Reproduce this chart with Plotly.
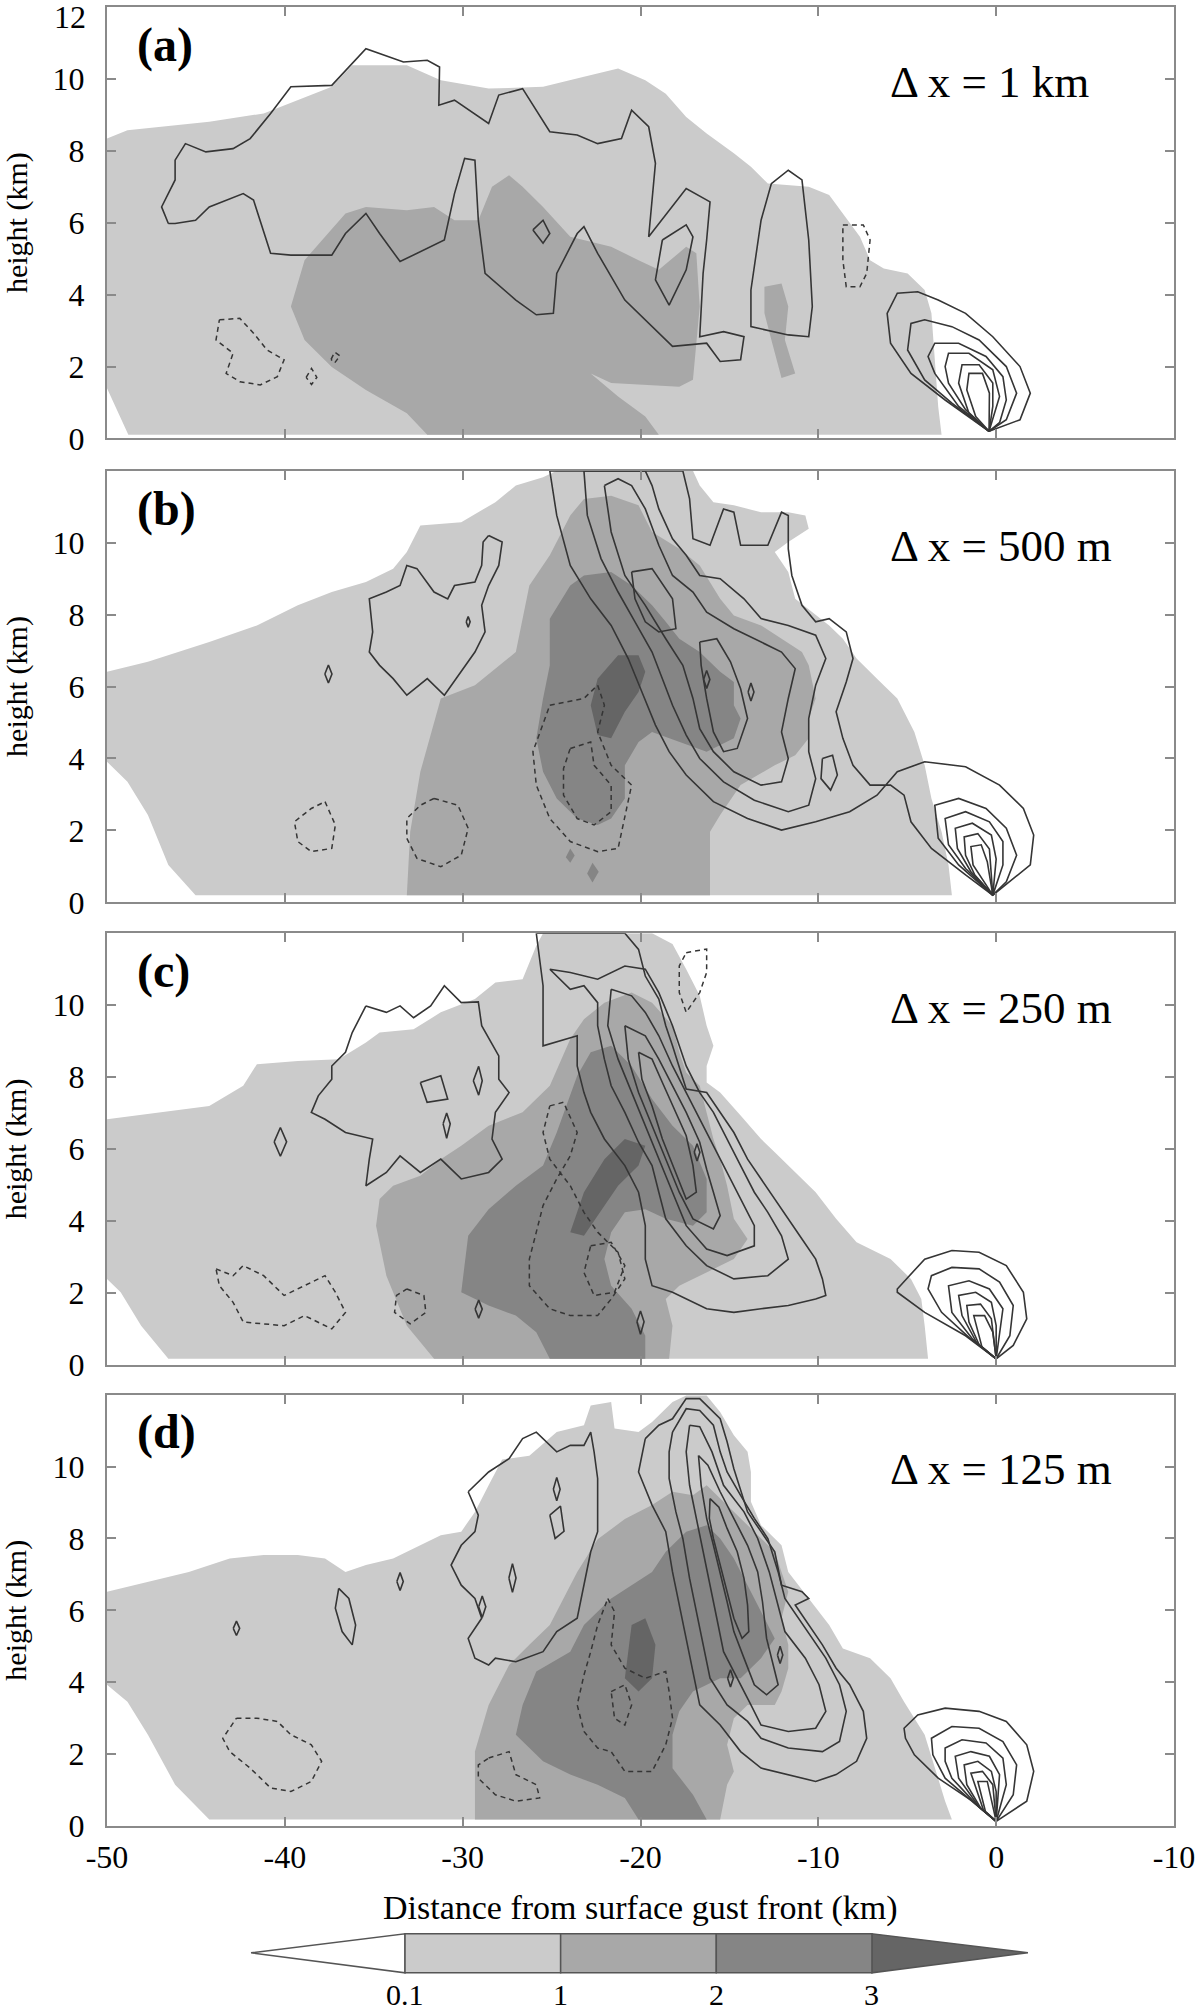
import plotly.graph_objects as go

# colour-bar levels and shades (white below 0.1, darkest above 3)
levels = [0.1, 1, 2, 3]
shade_colors = ["#ffffff", "#cbcbcb", "#a8a8a8", "#858585", "#656565"]

panel_tags = ["(a)", "(b)", "(c)", "(d)"]
grid_labels = ["\u0394 x = 1 km", "\u0394 x = 500 m", "\u0394 x = 250 m", "\u0394 x = 125 m"]
x_ticks = [-50, -40, -30, -20, -10, 0, 10]
x_tick_text = ["-50", "-40", "-30", "-20", "-10", "0", "-10"]

# ---------------- panel (a) ----------------
a_light = [(-50, 8.34), (-48.85, 8.57), (-44.25, 8.81), (-41.19, 9.04), (-37.36, 9.78), (-36.21, 10.38),
           (-33.14, 10.38), (-31.23, 9.96), (-28.54, 9.73), (-25.48, 9.78), (-23.18, 10.06), (-21.26, 10.29),
           (-19.73, 9.96), (-18.58, 9.59), (-17.43, 8.94), (-16.28, 8.48), (-14.75, 7.93), (-13.79, 7.56),
           (-12.84, 7.09), (-10.54, 7.0), (-9.39, 6.77), (-8.62, 6.26), (-7.66, 5.61), (-7.09, 4.96),
           (-6.32, 4.73), (-4.98, 4.59), (-4.02, 4.13), (-3.64, 3.48), (-3.45, 2.28), (-3.26, 0.89),
           (-3.07, 0.1), (-48.8, 0.1), (-50, 1.4)]
a_mid = [(-39.66, 3.67), (-38.89, 4.96), (-36.59, 6.26), (-35.44, 6.44), (-33.14, 6.35), (-31.61, 6.44),
         (-30.46, 6.07), (-29.12, 6.07), (-28.35, 7.0), (-27.39, 7.32), (-26.63, 7.0), (-25.48, 6.44),
         (-23.95, 5.61), (-21.65, 5.33), (-20.11, 4.96), (-18.97, 4.69), (-17.43, 5.33), (-16.86, 5.15),
         (-16.67, 3.67), (-16.86, 2.74), (-17.05, 1.63), (-17.82, 1.44), (-21.65, 1.54), (-22.8, 1.81),
         (-21.26, 1.17), (-19.73, 0.61), (-18.97, 0.1), (-31.99, 0.1), (-33.14, 0.7), (-35.44, 1.35),
         (-37.36, 1.99), (-38.89, 2.74)]
a_mid2 = [(-13.03, 4.22), (-12.07, 4.31), (-11.69, 3.67), (-11.88, 2.74), (-11.3, 1.81), (-12.07, 1.68),
          (-12.64, 2.74), (-13.03, 3.48)]
a_up1 = [(-46.55, 5.98), (-46.93, 6.44), (-46.17, 7.19), (-46.17, 7.74), (-45.59, 8.2), (-44.44, 7.97),
         (-42.91, 8.06), (-41.95, 8.34), (-40.8, 9.04), (-39.66, 9.78), (-37.36, 9.82), (-35.44, 10.84),
         (-33.33, 10.47), (-31.99, 10.52), (-31.3, 10.33), (-31.34, 9.27), (-30.46, 9.41), (-28.54, 8.76),
         (-27.97, 9.55), (-26.63, 9.73), (-25.1, 8.53), (-23.56, 8.44), (-22.41, 8.2), (-21.07, 8.34),
         (-20.5, 9.13), (-19.54, 8.67), (-19.16, 7.65), (-19.54, 5.61), (-17.43, 6.95), (-16.09, 6.58),
         (-16.28, 5.52), (-16.48, 4.59), (-16.67, 2.83), (-15.33, 2.97), (-14.18, 2.83), (-14.37, 2.19),
         (-15.52, 2.14), (-16.28, 2.65), (-18.2, 2.56), (-19.35, 3.11), (-20.88, 3.85), (-22.41, 5.15),
         (-23.18, 5.89), (-23.56, 5.7), (-24.71, 4.59), (-24.9, 3.48), (-25.86, 3.44), (-27.01, 3.85),
         (-28.74, 4.59), (-29.12, 6.07), (-29.31, 7.74), (-29.89, 7.79), (-30.46, 6.81), (-31.03, 5.52),
         (-33.52, 4.92), (-34.67, 5.7), (-35.44, 6.26), (-36.59, 5.7), (-37.36, 5.1), (-39.66, 5.1),
         (-40.8, 5.15), (-41.76, 6.63), (-42.34, 6.81), (-44.25, 6.44), (-45.02, 6.07), (-46.17, 5.98)]
a_up2 = [(-26.05, 5.8), (-25.48, 6.07), (-25.1, 5.7), (-25.48, 5.43)]
a_up3 = [(-18.77, 5.52), (-17.43, 5.94), (-17.05, 5.61), (-17.43, 4.69), (-18.39, 3.71), (-19.16, 4.41)]
a_up4 = [(-12.64, 7.09), (-11.69, 7.46), (-10.92, 7.19), (-10.54, 5.52), (-10.34, 3.67), (-10.54, 2.83),
         (-11.69, 2.88), (-13.79, 3.11), (-13.79, 4.13), (-13.22, 6.07)]
a_gf1 = [(-0.4, 0.2), (-2.87, 1.07), (-4.79, 1.81), (-5.94, 2.65), (-6.13, 3.48), (-5.56, 4.04), (-4.41, 4.08),
         (-3.26, 3.85), (-1.72, 3.48), (-0.19, 2.83), (1.34, 2.0), (1.92, 1.26), (1.34, 0.52), (-0.4, 0.2)]
a_gf2 = [(-0.4, 0.2), (-2.49, 0.98), (-4.02, 1.63), (-4.98, 2.46), (-4.79, 3.2), (-4.02, 3.3), (-2.49, 3.11),
         (-0.96, 2.74), (0.57, 2.0), (1.15, 1.26), (0.57, 0.52), (-0.4, 0.2)]
a_gf3 = [(-0.4, 0.2), (-2.11, 0.89), (-3.45, 1.81), (-3.83, 2.28), (-3.45, 2.65), (-2.11, 2.65), (-0.57, 2.28),
         (0.38, 1.72), (0.57, 1.07), (0.2, 0.45), (-0.4, 0.2)]
a_gf4 = [(-0.4, 0.2), (-1.72, 0.8), (-2.68, 1.54), (-2.87, 2.0), (-2.68, 2.37), (-1.53, 2.37), (-0.19, 1.91),
         (0.19, 1.17), (-0.4, 0.2)]
a_gf5 = [(-0.4, 0.2), (-1.53, 0.7), (-2.11, 1.54), (-1.92, 2.05), (-0.96, 2.05), (-0.19, 1.54), (-0.19, 0.89),
         (-0.4, 0.2)]
a_gf6 = [(-0.4, 0.2), (-1.15, 0.61), (-1.65, 1.35), (-1.53, 1.81), (-0.77, 1.81), (-0.38, 1.26), (-0.4, 0.2)]
a_down1 = [(-43.68, 3.3), (-42.53, 3.34), (-41.76, 2.93), (-41.0, 2.46), (-40.04, 2.19), (-40.42, 1.72),
           (-41.38, 1.49), (-42.53, 1.58), (-43.3, 1.81), (-42.91, 2.37), (-43.87, 2.74)]
a_down2 = [(-38.8, 1.7), (-38.5, 1.95), (-38.2, 1.7), (-38.5, 1.5)]
a_down3 = [(-37.4, 2.2), (-37.2, 2.4), (-36.9, 2.3), (-37.2, 2.1)]
a_down4 = [(-8.62, 5.94), (-7.47, 5.94), (-7.09, 5.52), (-7.28, 4.59), (-7.66, 4.22), (-8.43, 4.22), (-8.62, 4.96)]

# ---------------- panel (b) ----------------
b_light = [(-50, 6.41), (-47.7, 6.69), (-44.25, 7.24), (-41.57, 7.7), (-39.27, 8.26), (-37.36, 8.63),
           (-35.44, 8.91), (-33.91, 9.28), (-33.14, 9.74), (-32.38, 10.48), (-30.08, 10.57), (-28.16, 11.13),
           (-27.01, 11.59), (-25.48, 11.82), (-24.71, 12.0), (-17.05, 12.0), (-16.67, 11.59), (-15.9, 11.13),
           (-14.75, 11.04), (-13.22, 10.85), (-11.69, 10.85), (-10.73, 10.76), (-10.54, 10.39), (-11.69, 10.02),
           (-12.45, 9.74), (-11.69, 9.19), (-11.3, 8.44), (-10.15, 7.98), (-9.39, 7.7), (-8.62, 7.33),
           (-7.85, 6.78), (-6.7, 6.22), (-5.56, 5.67), (-4.6, 4.74), (-4.02, 3.81), (-3.64, 2.89), (-3.07, 1.96),
           (-2.68, 1.04), (-2.49, 0.2), (-45.02, 0.2), (-46.55, 1.04), (-47.7, 2.43), (-48.85, 3.35), (-50, 3.91)]
b_mid = [(-33.14, 0.2), (-32.95, 1.96), (-32.38, 3.63), (-31.23, 5.67), (-29.31, 6.04), (-27.01, 6.96),
         (-26.25, 8.81), (-25.1, 9.65), (-23.95, 10.76), (-23.18, 11.22), (-21.65, 11.31), (-20.11, 11.04),
         (-19.35, 10.3), (-17.82, 9.83), (-16.67, 9.37), (-15.52, 8.44), (-14.75, 7.98), (-13.22, 7.7),
         (-10.92, 6.96), (-10.54, 6.59), (-10.15, 5.67), (-10.54, 5.11), (-10.54, 4.56), (-11.3, 4.09),
         (-12.45, 3.81), (-14.37, 3.26), (-15.52, 2.43), (-16.09, 1.96), (-16.09, 0.2)]
b_dark = [(-25.1, 7.89), (-23.95, 8.81), (-23.18, 9.09), (-21.65, 9.19), (-20.5, 8.81), (-19.35, 8.26),
          (-18.58, 7.8), (-17.82, 7.33), (-16.67, 6.96), (-15.52, 6.41), (-14.75, 6.13), (-14.75, 5.48),
          (-14.37, 5.11), (-14.75, 4.56), (-16.28, 4.19), (-17.82, 4.46), (-19.35, 4.74), (-20.11, 4.46),
          (-20.88, 3.81), (-20.88, 2.89), (-21.65, 2.33), (-22.41, 2.15), (-23.56, 2.33), (-24.71, 2.89),
          (-25.48, 3.63), (-25.86, 4.56), (-25.48, 5.67), (-25.1, 6.59)]
b_dark2 = [(-24.2, 1.25), (-23.95, 1.5), (-23.7, 1.3), (-23.95, 1.1)]
b_dark3 = [(-23.0, 0.8), (-22.7, 1.1), (-22.35, 0.85), (-22.7, 0.55)]
b_darkest = [(-22.41, 6.22), (-21.26, 6.87), (-20.11, 6.87), (-19.73, 6.41), (-20.11, 5.85), (-20.88, 5.3),
             (-21.65, 4.56), (-22.41, 4.65), (-22.8, 5.48)]
b_cloud = [(-28.54, 10.2), (-27.78, 10.02), (-27.97, 9.37), (-28.54, 8.81), (-28.93, 8.26), (-28.74, 7.52),
           (-29.31, 6.96), (-30.08, 6.41), (-31.03, 5.76), (-31.99, 6.22), (-33.14, 5.76), (-33.91, 6.22),
           (-34.67, 6.59), (-35.25, 6.96), (-35.06, 7.52), (-35.25, 8.44), (-34.29, 8.63), (-33.52, 8.81),
           (-33.14, 9.37), (-32.57, 9.28), (-31.61, 8.63), (-30.84, 8.44), (-30.46, 8.81), (-29.31, 8.91),
           (-28.93, 9.37), (-28.85, 10.02)]
b_dot1 = [(-37.75, 6.35), (-37.55, 6.6), (-37.35, 6.35), (-37.55, 6.1)]
b_dot2 = [(-29.8, 7.8), (-29.69, 7.95), (-29.58, 7.8), (-29.69, 7.65)]
b_up1 = [(-25.1, 12.0), (-24.71, 10.76), (-23.95, 9.37), (-22.8, 8.44), (-21.65, 7.7), (-20.69, 6.78),
         (-19.92, 5.85), (-19.16, 4.93), (-18.39, 4.19), (-17.43, 3.54), (-15.9, 2.8), (-13.98, 2.33),
         (-12.07, 2.01), (-10.15, 2.24), (-8.24, 2.52), (-6.7, 2.98), (-5.56, 3.63), (-4.02, 3.91),
         (-1.72, 3.77), (0.19, 3.26), (1.53, 2.61), (2.11, 1.87), (1.92, 1.04), (-0.19, 0.2), (-1.72, 0.76),
         (-3.64, 1.5), (-4.79, 2.24), (-5.18, 2.98), (-5.94, 3.26), (-7.09, 3.26), (-8.05, 3.81), (-8.62, 4.56),
         (-9.0, 5.3), (-8.43, 6.13), (-8.05, 6.78), (-8.43, 7.52), (-9.39, 7.89), (-10.15, 7.8), (-10.92, 8.26),
         (-11.49, 9.09), (-11.69, 9.83), (-11.69, 10.76), (-12.07, 10.85), (-12.84, 9.93), (-14.37, 9.93),
         (-14.75, 10.85), (-15.33, 10.94), (-16.09, 9.93), (-17.05, 10.11), (-17.24, 11.22), (-17.62, 12.0)]
b_up2 = [(-23.18, 12.0), (-22.99, 10.76), (-22.22, 9.56), (-21.26, 8.63), (-20.31, 7.8), (-19.35, 6.96),
         (-18.77, 6.22), (-18.2, 5.48), (-17.43, 4.65), (-16.67, 4.0), (-15.33, 3.35), (-13.6, 2.84),
         (-11.69, 2.52), (-10.54, 2.7), (-10.15, 3.44), (-10.54, 4.19), (-10.54, 5.11), (-10.15, 6.04),
         (-9.58, 6.78), (-10.15, 7.43), (-11.69, 7.7), (-13.22, 7.89), (-14.18, 8.44), (-15.52, 9.0),
         (-16.67, 9.09), (-17.43, 9.65), (-18.2, 10.11), (-18.97, 10.94), (-19.35, 11.59), (-19.73, 12.0)]
b_up3 = [(-22.03, 11.59), (-21.65, 10.3), (-20.88, 9.09), (-19.73, 8.26), (-18.58, 7.33), (-17.62, 6.59),
         (-17.05, 5.67), (-16.67, 4.83), (-15.9, 4.19), (-14.75, 3.63), (-13.22, 3.26), (-12.07, 3.35),
         (-11.69, 4.0), (-12.07, 4.74), (-11.69, 5.67), (-11.3, 6.5), (-12.07, 6.96), (-13.6, 7.33),
         (-14.75, 7.61), (-16.28, 8.07), (-17.05, 8.63), (-18.2, 9.09), (-18.97, 9.93), (-19.73, 10.94),
         (-20.5, 11.59), (-21.26, 11.78)]
b_up4 = [(-20.5, 9.19), (-19.35, 9.28), (-18.2, 8.44), (-18.01, 7.61), (-18.97, 7.52), (-19.73, 7.8), (-20.31, 8.44)]
b_up5 = [(-16.67, 7.24), (-15.71, 7.33), (-14.94, 6.69), (-14.37, 5.94), (-13.98, 5.11), (-14.56, 4.28),
         (-15.33, 4.19), (-15.9, 4.74), (-16.28, 5.67), (-16.59, 6.59)]
b_up6 = [(-16.45, 6.2), (-16.28, 6.45), (-16.1, 6.2), (-16.28, 5.95)]
b_up7 = [(-13.95, 5.85), (-13.79, 6.1), (-13.62, 5.85), (-13.79, 5.6)]
b_up8 = [(-9.77, 4.0), (-9.2, 4.09), (-8.93, 3.54), (-9.31, 3.12), (-9.85, 3.44)]
b_gf1 = [(-0.19, 0.2), (-2.11, 1.04), (-3.26, 1.78), (-3.45, 2.7), (-2.11, 2.89), (-0.57, 2.61), (0.57, 2.06),
         (1.15, 1.31), (0.57, 0.57), (-0.19, 0.2)]
b_gf2 = [(-0.19, 0.2), (-1.72, 0.94), (-2.68, 1.6), (-2.87, 2.33), (-1.72, 2.52), (-0.38, 2.24), (0.38, 1.69),
         (0.38, 1.04), (-0.19, 0.2)]
b_gf3 = [(-0.19, 0.2), (-1.42, 0.85), (-2.18, 1.5), (-2.3, 2.06), (-1.34, 2.2), (-0.27, 1.87), (0.0, 1.2), (-0.19, 0.2)]
b_gf4 = [(-0.19, 0.2), (-1.2, 0.76), (-1.72, 1.31), (-1.8, 1.82), (-1.03, 1.91), (-0.38, 1.48), (-0.19, 0.2)]
b_gf5 = [(-0.19, 0.2), (-1.3, 1.04), (-1.42, 1.55), (-0.84, 1.6), (-0.5, 1.13), (-0.19, 0.2)]
b_down1 = [(-37.74, 2.8), (-37.16, 2.15), (-37.36, 1.5), (-38.51, 1.41), (-39.27, 1.69), (-39.46, 2.24), (-38.51, 2.61)]
b_down2 = [(-31.61, 2.89), (-30.27, 2.7), (-29.69, 2.06), (-30.08, 1.31), (-31.23, 0.99), (-32.57, 1.22),
           (-33.14, 1.78), (-33.14, 2.33), (-32.38, 2.7)]
b_down3 = [(-25.1, 5.48), (-23.18, 5.67), (-22.41, 6.04), (-22.03, 5.48), (-22.41, 4.74), (-21.65, 3.81),
           (-20.5, 3.26), (-20.88, 2.33), (-21.26, 1.5), (-22.41, 1.41), (-23.95, 1.69), (-25.1, 2.33),
           (-25.86, 3.26), (-26.05, 4.19), (-25.48, 4.93)]
b_down4 = [(-23.95, 4.28), (-22.8, 4.46), (-22.61, 3.81), (-21.65, 3.26), (-21.65, 2.52), (-22.61, 2.15),
           (-23.56, 2.33), (-24.33, 2.98), (-24.33, 3.72)]

# ---------------- panel (c) ----------------
c_light = [(-50, 6.83), (-46.93, 7.02), (-44.25, 7.2), (-42.34, 7.76), (-41.57, 8.36), (-39.27, 8.45),
           (-36.97, 8.5), (-35.44, 8.96), (-34.67, 9.24), (-32.76, 9.33), (-31.23, 9.8), (-29.31, 10.17),
           (-28.16, 10.63), (-26.63, 10.72), (-25.86, 11.65), (-25.48, 12.0), (-19.35, 12.0), (-18.2, 11.7),
           (-17.43, 11.0), (-16.67, 10.26), (-16.28, 9.43), (-15.9, 8.87), (-16.28, 8.31), (-16.28, 7.85),
           (-15.52, 7.57), (-14.37, 6.93), (-13.22, 6.28), (-12.45, 5.91), (-11.69, 5.54), (-10.15, 4.8),
           (-9.0, 4.06), (-7.85, 3.41), (-5.94, 2.94), (-4.79, 2.39), (-4.21, 1.83), (-4.02, 1.09),
           (-3.83, 0.17), (-46.55, 0.17), (-48.08, 1.09), (-49.23, 2.02), (-50, 2.39)]
c_mid = [(-31.61, 0.17), (-33.14, 1.09), (-34.29, 2.48), (-34.87, 3.87), (-34.67, 4.61), (-33.91, 4.98),
         (-32.38, 5.26), (-31.23, 5.72), (-30.08, 6.09), (-28.54, 6.65), (-26.63, 7.02), (-25.1, 7.76),
         (-23.95, 9.06), (-23.18, 9.61), (-22.03, 10.07), (-20.5, 10.35), (-19.35, 10.07), (-18.2, 9.43),
         (-17.82, 8.69), (-17.43, 8.13), (-16.67, 7.76), (-16.28, 7.02), (-15.9, 6.28), (-15.52, 5.72),
         (-15.13, 4.98), (-14.75, 4.06), (-13.98, 3.5), (-14.75, 2.94), (-16.28, 2.57), (-17.82, 2.2),
         (-18.58, 1.83), (-18.2, 1.09), (-18.39, 0.17)]
c_dark = [(-30.08, 2.02), (-29.69, 3.59), (-28.54, 4.33), (-27.01, 4.98), (-25.48, 5.54), (-24.71, 6.46),
          (-23.56, 8.04), (-22.8, 8.69), (-21.65, 8.87), (-20.5, 8.31), (-19.35, 7.39), (-18.2, 6.65),
          (-17.05, 6.09), (-16.28, 5.17), (-16.28, 4.24), (-17.05, 3.87), (-18.58, 4.06), (-19.73, 4.33),
          (-20.88, 4.24), (-21.65, 3.69), (-22.03, 2.94), (-21.65, 2.2), (-20.5, 1.56), (-19.73, 0.81),
          (-19.73, 0.17), (-25.1, 0.17), (-25.86, 0.91), (-27.01, 1.37), (-28.54, 1.65)]
c_darkest = [(-23.95, 3.69), (-23.18, 4.8), (-22.03, 5.72), (-20.88, 6.28), (-19.73, 6.09), (-20.11, 5.54),
             (-21.26, 4.98), (-22.41, 4.15), (-23.18, 3.59)]
c_cloud = [(-35.44, 9.98), (-34.29, 9.8), (-33.52, 9.98), (-32.76, 9.65), (-31.8, 9.98), (-31.03, 10.54),
           (-30.08, 10.07), (-29.12, 10.09), (-28.93, 9.43), (-27.97, 8.59), (-27.97, 7.94), (-27.39, 7.57),
           (-28.16, 7.02), (-28.35, 6.28), (-27.78, 5.72), (-28.54, 5.35), (-30.08, 5.17), (-31.23, 5.72),
           (-32.38, 5.35), (-33.52, 5.81), (-34.29, 5.35), (-35.44, 4.98), (-35.25, 5.72), (-35.06, 6.28),
           (-36.59, 6.46), (-37.74, 6.83), (-38.51, 7.02), (-38.12, 7.48), (-37.36, 7.94), (-37.36, 8.31),
           (-36.59, 8.69), (-36.21, 9.24)]
c_hole1 = [(-32.38, 7.85), (-31.23, 8.04), (-30.84, 7.39), (-32.0, 7.3)]
c_hole2 = [(-29.4, 7.9), (-29.1, 8.3), (-28.9, 7.9), (-29.1, 7.5)]
c_hole3 = [(-31.1, 6.7), (-30.9, 7.0), (-30.7, 6.7), (-30.9, 6.3)]
c_dot1 = [(-40.6, 6.2), (-40.25, 6.6), (-39.9, 6.2), (-40.25, 5.8)]
c_dot2 = [(-16.98, 5.91), (-16.82, 6.15), (-16.66, 5.91), (-16.82, 5.67)]
c_dot3 = [(-20.2, 1.2), (-20.0, 1.5), (-19.8, 1.2), (-20.0, 0.85)]
c_dot4 = [(-29.3, 1.55), (-29.1, 1.8), (-28.9, 1.55), (-29.1, 1.3)]
c_up1 = [(-25.86, 12.0), (-25.48, 10.54), (-25.48, 8.87), (-23.56, 9.15), (-23.56, 8.31), (-23.18, 7.57),
         (-22.8, 7.02), (-22.03, 6.28), (-20.88, 5.54), (-20.11, 4.8), (-19.73, 3.87), (-19.73, 2.94),
         (-19.35, 2.2), (-18.2, 2.02), (-16.28, 1.56), (-14.75, 1.46), (-13.22, 1.56), (-11.69, 1.65),
         (-10.15, 1.83), (-9.58, 1.93), (-9.77, 2.39), (-10.15, 2.94), (-10.92, 3.5), (-11.69, 4.06),
         (-12.45, 4.61), (-13.22, 5.17), (-13.98, 5.72), (-14.75, 6.46), (-15.52, 7.02), (-16.28, 7.57),
         (-17.43, 7.67), (-17.82, 8.31), (-18.2, 8.87), (-18.58, 9.43), (-18.97, 10.17), (-19.73, 10.81),
         (-20.11, 11.55), (-20.88, 12.0)]
c_up2 = [(-25.1, 11.0), (-23.95, 10.44), (-23.18, 10.54), (-22.41, 10.07), (-22.41, 9.43), (-22.03, 8.5),
         (-21.65, 7.76), (-20.88, 7.02), (-20.11, 6.19), (-19.35, 5.54), (-18.97, 4.8), (-18.58, 4.06),
         (-17.43, 3.31), (-16.28, 2.76), (-14.75, 2.39), (-12.84, 2.48), (-11.69, 2.94), (-12.07, 3.59),
         (-12.84, 4.24), (-13.6, 4.8), (-14.37, 5.54), (-15.13, 6.28), (-15.9, 7.02), (-16.67, 7.57),
         (-17.43, 8.31), (-18.2, 9.43), (-18.97, 10.35), (-19.73, 11.0), (-20.88, 11.09), (-22.41, 10.72),
         (-23.95, 10.91)]
c_up3 = [(-21.65, 10.44), (-20.5, 10.26), (-19.73, 9.8), (-18.97, 9.15), (-18.2, 8.31), (-17.43, 7.57),
         (-16.67, 6.83), (-15.9, 6.09), (-15.13, 5.35), (-14.37, 4.61), (-13.6, 3.87), (-13.6, 3.31),
         (-15.13, 3.04), (-16.28, 3.22), (-17.43, 3.87), (-18.2, 4.8), (-18.97, 5.72), (-19.73, 6.65),
         (-20.5, 7.57), (-21.26, 8.5), (-21.84, 9.43)]
c_up4 = [(-20.88, 9.43), (-19.73, 9.15), (-18.97, 8.5), (-18.2, 7.76), (-17.43, 7.02), (-16.67, 6.19),
         (-16.28, 5.44), (-15.9, 4.8), (-15.52, 4.15), (-15.9, 3.78), (-17.05, 4.06), (-17.82, 4.8),
         (-18.58, 5.72), (-19.35, 6.65), (-20.11, 7.57), (-20.69, 8.5)]
c_up5 = [(-20.11, 8.69), (-19.35, 8.5), (-18.77, 7.85), (-18.2, 7.2), (-17.43, 6.37), (-17.05, 5.54),
         (-16.86, 4.8), (-17.43, 4.61), (-18.01, 5.35), (-18.77, 6.28), (-19.35, 7.2), (-19.92, 7.94)]
c_gf1 = [(0.0, 0.17), (-1.72, 0.81), (-4.02, 1.46), (-5.56, 2.02), (-5.56, 2.11), (-4.02, 2.94), (-2.49, 3.18),
         (-0.96, 3.13), (0.57, 2.76), (1.53, 2.02), (1.72, 1.28), (0.96, 0.54), (0.0, 0.17)]
c_gf2 = [(0.0, 0.17), (-1.5, 0.75), (-3.07, 1.46), (-3.83, 2.11), (-3.64, 2.48), (-2.49, 2.71), (-0.96, 2.67),
         (0.19, 2.3), (0.96, 1.65), (0.77, 0.81), (0.0, 0.17)]
c_gf3 = [(0.0, 0.17), (-1.3, 0.7), (-2.49, 1.46), (-2.68, 2.2), (-1.53, 2.34), (-0.38, 2.11), (0.38, 1.56),
         (0.19, 0.81), (0.0, 0.17)]
c_gf4 = [(0.0, 0.17), (-1.1, 0.62), (-1.92, 1.37), (-2.11, 1.93), (-1.15, 2.02), (-0.27, 1.74), (0.0, 1.09), (0.0, 0.17)]
c_gf5 = [(0.0, 0.17), (-0.95, 0.55), (-1.53, 1.19), (-1.65, 1.65), (-0.88, 1.69), (-0.27, 1.28), (0.0, 0.17)]
c_gf6 = [(0.0, 0.17), (-0.8, 0.5), (-1.26, 1.37), (-0.65, 1.37), (-0.19, 0.91), (0.0, 0.17)]
c_down1 = [(-17.43, 11.46), (-16.28, 11.56), (-16.28, 10.91), (-16.67, 10.35), (-17.43, 9.8), (-17.82, 10.35),
           (-17.82, 11.09)]
c_down2 = [(-25.1, 7.2), (-24.33, 7.3), (-23.56, 6.46), (-23.95, 5.81), (-24.71, 5.17), (-25.48, 4.43),
           (-25.86, 3.69), (-26.25, 2.94), (-26.25, 2.2), (-25.1, 1.56), (-23.95, 1.37), (-22.41, 1.37),
           (-21.65, 1.83), (-20.88, 2.39), (-21.26, 3.13), (-22.41, 3.69), (-23.18, 4.24), (-23.95, 4.98),
           (-25.1, 5.72), (-25.48, 6.46)]
c_down3 = [(-22.8, 3.31), (-21.65, 3.41), (-20.88, 2.76), (-21.46, 2.02), (-22.61, 1.93), (-23.18, 2.57)]
c_down4 = [(-43.87, 2.67), (-42.91, 2.48), (-42.34, 2.76), (-41.19, 2.48), (-40.04, 1.93), (-38.89, 2.2),
           (-37.74, 2.48), (-37.16, 2.02), (-36.59, 1.46), (-37.36, 1.0), (-38.89, 1.37), (-40.04, 1.09),
           (-42.34, 1.19), (-42.91, 1.74), (-43.68, 2.2)]
c_down5 = [(-33.14, 2.11), (-32.18, 1.93), (-32.07, 1.46), (-32.95, 1.14), (-33.83, 1.46), (-33.72, 1.93)]

# ---------------- panel (d) ----------------
d_light = [(-50, 6.52), (-47.7, 6.8), (-45.4, 7.07), (-43.1, 7.44), (-41.19, 7.54), (-39.27, 7.54),
           (-37.74, 7.44), (-36.59, 7.07), (-35.44, 7.26), (-33.91, 7.44), (-32.38, 7.81), (-31.23, 8.09),
           (-30.08, 8.19), (-29.31, 8.74), (-28.54, 9.48), (-27.78, 10.2), (-26.25, 10.3), (-24.71, 10.96),
           (-23.18, 11.15), (-22.8, 11.7), (-21.65, 11.8), (-21.46, 11.06), (-20.11, 10.96), (-19.35, 11.24),
           (-18.2, 11.8), (-17.43, 11.98), (-16.28, 11.98), (-15.52, 11.52), (-14.75, 10.87), (-13.98, 10.41),
           (-13.79, 9.85), (-13.79, 9.02), (-13.22, 8.37), (-12.07, 7.81), (-11.69, 7.07), (-10.54, 6.33),
           (-9.39, 5.59), (-8.62, 4.94), (-7.09, 4.67), (-5.94, 4.11), (-5.18, 3.46), (-4.02, 2.54),
           (-3.45, 1.61), (-2.87, 0.69), (-2.49, 0.18), (-44.25, 0.18), (-46.17, 1.15), (-47.7, 2.54),
           (-48.85, 3.46), (-50, 3.93)]
d_mid = [(-29.31, 0.18), (-29.31, 2.07), (-28.54, 3.37), (-27.39, 4.48), (-26.25, 5.04), (-25.1, 5.59),
         (-23.56, 7.07), (-22.41, 7.98), (-20.88, 8.54), (-19.35, 8.93), (-18.2, 9.3), (-17.05, 9.2),
         (-16.28, 9.48), (-14.75, 8.74), (-13.6, 8.19), (-12.45, 7.63), (-12.07, 7.07), (-11.69, 6.52),
         (-12.07, 5.78), (-11.69, 5.04), (-11.69, 4.39), (-12.07, 3.74), (-12.45, 3.37), (-13.98, 3.37),
         (-14.75, 3.0), (-15.13, 2.26), (-14.75, 1.52), (-15.13, 1.15), (-15.52, 0.18)]
d_dark = [(-27.01, 2.54), (-26.63, 3.37), (-25.86, 4.3), (-23.95, 4.85), (-23.18, 5.59), (-21.65, 6.33),
          (-20.5, 6.7), (-19.35, 7.07), (-18.58, 7.63), (-17.43, 8.19), (-16.28, 8.37), (-15.52, 8.0),
          (-14.75, 7.44), (-13.98, 6.7), (-13.22, 5.96), (-12.45, 5.22), (-13.22, 4.67), (-14.37, 4.11),
          (-15.52, 4.11), (-17.05, 3.74), (-17.82, 3.19), (-18.2, 2.54), (-18.2, 1.61), (-17.05, 0.87),
          (-16.28, 0.18), (-20.11, 0.18), (-20.88, 0.78), (-22.41, 1.15), (-23.95, 1.43), (-25.48, 1.8)]
d_darkest = [(-20.5, 5.59), (-19.73, 5.78), (-19.16, 5.04), (-19.35, 4.11), (-20.11, 3.74), (-20.88, 4.11),
             (-20.69, 4.85)]
d_cloud = [(-29.69, 9.3), (-28.54, 9.85), (-27.39, 10.22), (-26.63, 10.78), (-25.86, 10.96), (-24.71, 10.41),
           (-23.95, 10.59), (-23.18, 10.59), (-22.8, 10.96), (-22.61, 10.41), (-22.41, 9.67), (-22.41, 8.19),
           (-22.8, 7.63), (-23.18, 6.7), (-23.56, 5.78), (-24.71, 5.41), (-25.48, 4.85), (-27.01, 4.57),
           (-28.16, 4.67), (-28.54, 4.48), (-29.31, 4.67), (-29.69, 5.22), (-28.93, 5.78), (-29.31, 6.33),
           (-30.08, 6.7), (-30.65, 7.26), (-30.08, 7.81), (-29.31, 8.19), (-29.12, 8.65)]
d_hole1 = [(-25.1, 8.65), (-24.5, 8.9), (-24.3, 8.2), (-24.8, 8.0)]
d_hole2 = [(-24.9, 9.37), (-24.71, 9.7), (-24.52, 9.37), (-24.71, 9.05)]
d_hole3 = [(-27.4, 6.9), (-27.2, 7.3), (-27.0, 6.9), (-27.2, 6.5)]
d_hole4 = [(-29.1, 6.1), (-28.9, 6.4), (-28.7, 6.1), (-28.9, 5.8)]
d_dot1 = [(-36.97, 6.61), (-36.4, 6.33), (-36.02, 5.59), (-36.21, 5.04), (-36.78, 5.41), (-37.16, 6.06)]
d_dot2 = [(-33.7, 6.8), (-33.52, 7.05), (-33.34, 6.8), (-33.52, 6.55)]
d_dot3 = [(-42.9, 5.5), (-42.72, 5.7), (-42.54, 5.5), (-42.72, 5.3)]
d_up1 = [(-19.73, 10.78), (-20.11, 9.85), (-19.35, 8.93), (-18.58, 8.19), (-18.2, 7.07), (-17.82, 6.15),
         (-17.43, 5.22), (-17.05, 4.3), (-16.67, 3.37), (-15.52, 2.81), (-14.37, 2.07), (-13.22, 1.61),
         (-11.69, 1.43), (-10.15, 1.24), (-9.0, 1.43), (-7.85, 1.8), (-7.28, 2.44), (-7.47, 3.19),
         (-8.24, 3.93), (-9.0, 4.39), (-9.77, 5.04), (-10.54, 5.59), (-11.3, 6.15), (-10.54, 6.33),
         (-10.92, 6.52), (-12.07, 6.7), (-12.45, 7.63), (-13.22, 8.19), (-13.98, 8.74), (-14.75, 9.94),
         (-15.13, 10.69), (-15.52, 11.33), (-16.67, 11.89), (-17.43, 11.89), (-18.2, 11.33), (-18.97, 11.15)]
d_up2 = [(-18.2, 10.96), (-17.43, 11.61), (-16.67, 11.56), (-15.9, 11.15), (-15.52, 10.41), (-15.13, 9.85),
         (-14.37, 9.2), (-13.6, 8.56), (-12.84, 8.0), (-12.26, 7.07), (-11.88, 6.33), (-11.11, 5.78),
         (-10.34, 5.22), (-9.58, 4.67), (-8.81, 3.93), (-8.43, 3.19), (-8.81, 2.35), (-9.77, 2.07),
         (-11.69, 2.17), (-13.22, 2.44), (-13.98, 2.91), (-15.13, 3.37), (-16.09, 4.11), (-16.48, 5.04),
         (-16.86, 5.96), (-17.24, 6.89), (-17.62, 8.0), (-18.01, 8.74), (-18.39, 9.67), (-18.39, 10.41)]
d_up3 = [(-17.24, 11.15), (-16.67, 11.11), (-15.98, 10.41), (-15.33, 9.48), (-14.18, 8.74), (-13.41, 8.0),
         (-12.76, 7.07), (-12.38, 6.33), (-11.88, 5.41), (-10.73, 4.67), (-9.96, 3.93), (-9.58, 3.19),
         (-10.15, 2.72), (-11.69, 2.63), (-13.22, 2.81), (-13.79, 3.37), (-14.56, 4.11), (-15.33, 4.85),
         (-15.71, 5.78), (-16.09, 6.7), (-16.48, 7.63), (-16.86, 8.56), (-17.24, 9.48), (-17.43, 10.41)]
d_up4 = [(-16.74, 10.31), (-16.21, 10.04), (-15.52, 9.3), (-14.75, 8.56), (-13.98, 7.81), (-13.41, 7.07),
         (-13.14, 6.24), (-12.91, 5.22), (-12.53, 4.48), (-12.26, 3.93), (-12.91, 3.65), (-13.6, 3.93),
         (-14.18, 4.67), (-14.75, 5.41), (-15.13, 6.24), (-15.52, 7.07), (-15.9, 7.81), (-16.28, 8.56),
         (-16.59, 9.48)]
d_up5 = [(-16.09, 9.11), (-15.59, 8.87), (-15.13, 8.28), (-14.56, 7.63), (-14.18, 6.89), (-13.98, 6.15),
         (-13.91, 5.41), (-14.29, 5.22), (-14.75, 5.78), (-15.13, 6.52), (-15.52, 7.26), (-15.9, 8.0),
         (-16.13, 8.56)]
d_up6 = [(-12.3, 4.76), (-12.15, 5.0), (-12.0, 4.76), (-12.15, 4.52)]
d_up7 = [(-15.1, 4.11), (-14.94, 4.35), (-14.78, 4.11), (-14.94, 3.87)]
d_gf1 = [(0.0, 0.13), (-1.34, 0.69), (-3.26, 1.33), (-4.6, 1.98), (-5.1, 2.44), (-5.18, 2.72), (-4.41, 3.09),
         (-2.87, 3.28), (-0.96, 3.19), (0.57, 2.91), (1.72, 2.26), (2.11, 1.52), (1.72, 0.69), (0.0, 0.13)]
d_gf2 = [(0.0, 0.13), (-1.2, 0.62), (-2.87, 1.33), (-3.56, 1.98), (-3.64, 2.44), (-2.49, 2.77), (-0.96, 2.72),
         (0.38, 2.35), (1.15, 1.7), (0.96, 0.87), (0.0, 0.13)]
d_gf3 = [(0.0, 0.13), (-1.05, 0.57), (-2.49, 1.33), (-2.87, 1.8), (-2.87, 2.17), (-1.92, 2.4), (-0.57, 2.31),
         (0.38, 1.89), (0.57, 1.15), (0.0, 0.13)]
d_gf4 = [(0.0, 0.13), (-0.95, 0.52), (-2.11, 1.33), (-2.3, 1.94), (-1.42, 2.07), (-0.38, 1.94), (0.19, 1.43), (0.0, 0.13)]
d_gf5 = [(0.0, 0.13), (-0.85, 0.48), (-1.65, 1.15), (-1.8, 1.7), (-1.03, 1.8), (-0.27, 1.52), (0.0, 0.96), (0.0, 0.13)]
d_gf6 = [(0.0, 0.13), (-0.72, 0.45), (-1.42, 1.47), (-0.77, 1.52), (-0.19, 1.15), (0.0, 0.13)]
d_gf7 = [(0.0, 0.13), (-0.6, 0.4), (-1.03, 1.24), (-0.5, 1.24), (0.0, 0.13)]
d_down1 = [(-42.72, 3.0), (-41.57, 3.0), (-40.42, 2.91), (-39.66, 2.54), (-38.51, 2.26), (-37.93, 1.8),
           (-38.51, 1.24), (-39.66, 0.96), (-40.8, 1.06), (-41.95, 1.61), (-43.1, 2.07), (-43.49, 2.44)]
d_down2 = [(-28.54, 1.89), (-27.39, 2.07), (-27.01, 1.43), (-25.86, 1.15), (-25.67, 0.78), (-27.01, 0.69),
           (-28.16, 0.87), (-29.12, 1.33), (-29.12, 1.7)]
d_down3 = [(-21.84, 6.33), (-21.46, 5.96), (-21.65, 5.04), (-20.88, 4.39), (-19.73, 4.11), (-18.58, 4.3),
           (-18.39, 3.74), (-18.2, 3.0), (-18.58, 2.26), (-19.35, 1.52), (-20.88, 1.52), (-21.65, 2.07),
           (-22.41, 2.17), (-23.18, 2.63), (-23.56, 3.37), (-23.18, 4.2), (-22.8, 4.85), (-22.41, 5.59)]
d_down4 = [(-21.65, 3.74), (-20.88, 3.93), (-20.5, 3.37), (-20.88, 2.81), (-21.46, 3.0)]

panels = [
    dict(shades=[(a_light, 1), (a_mid, 2), (a_mid2, 2)],
         solid=[a_up1, a_up2, a_up3, a_up4, a_gf1, a_gf2, a_gf3, a_gf4, a_gf5, a_gf6],
         dashed=[a_down1, a_down2, a_down3, a_down4]),
    dict(shades=[(b_light, 1), (b_mid, 2), (b_dark, 3), (b_dark2, 3), (b_dark3, 3), (b_darkest, 4)],
         solid=[b_cloud, b_dot1, b_dot2, b_up1, b_up2, b_up3, b_up4, b_up5, b_up6, b_up7, b_up8,
                b_gf1, b_gf2, b_gf3, b_gf4, b_gf5],
         dashed=[b_down1, b_down2, b_down3, b_down4]),
    dict(shades=[(c_light, 1), (c_mid, 2), (c_dark, 3), (c_darkest, 4)],
         solid=[c_cloud, c_hole1, c_hole2, c_hole3, c_dot1, c_dot2, c_dot3, c_dot4, c_up1, c_up2, c_up3,
                c_up4, c_up5, c_gf1, c_gf2, c_gf3, c_gf4, c_gf5, c_gf6],
         dashed=[c_down1, c_down2, c_down3, c_down4, c_down5]),
    dict(shades=[(d_light, 1), (d_mid, 2), (d_dark, 3), (d_darkest, 4)],
         solid=[d_cloud, d_hole1, d_hole2, d_hole3, d_hole4, d_dot1, d_dot2, d_dot3, d_up1, d_up2, d_up3,
                d_up4, d_up5, d_up6, d_up7, d_gf1, d_gf2, d_gf3, d_gf4, d_gf5, d_gf6, d_gf7],
         dashed=[d_down1, d_down2, d_down3, d_down4]),
]


def closed(pts):
    xs = [p[0] for p in pts] + [pts[0][0]]
    ys = [p[1] for p in pts] + [pts[0][1]]
    return xs, ys


SERIF = "Liberation Serif"
frame = "#8a8a8a"
line_col = "#353535"
y_domains = [[0.7628, 1.0], [0.5078, 0.7450], [0.2535, 0.4908], [0.0, 0.2371]]

fig = go.Figure()
for i, p in enumerate(panels):
    xa = "x" if i == 0 else f"x{i + 1}"
    ya = "y" if i == 0 else f"y{i + 1}"
    for pts, lev in p["shades"]:
        xs, ys = closed(pts)
        fig.add_trace(go.Scatter(x=xs, y=ys, mode="lines", fill="toself", fillcolor=shade_colors[lev],
                                 line=dict(width=0), hoverinfo="skip", showlegend=False, xaxis=xa, yaxis=ya))
    for pts in p["solid"]:
        xs, ys = closed(pts)
        fig.add_trace(go.Scatter(x=xs, y=ys, mode="lines", line=dict(color=line_col, width=1.6),
                                 hoverinfo="skip", showlegend=False, xaxis=xa, yaxis=ya))
    for pts in p["dashed"]:
        xs, ys = closed(pts)
        fig.add_trace(go.Scatter(x=xs, y=ys, mode="lines", line=dict(color=line_col, width=1.5, dash="5px,4px"),
                                 hoverinfo="skip", showlegend=False, xaxis=xa, yaxis=ya))

layout = dict(width=1200, height=2013, margin=dict(l=107, r=19, t=5, b=187),
              paper_bgcolor="white", plot_bgcolor="white", showlegend=False,
              font=dict(family=SERIF, size=32, color="black"))
annotations = []
for i in range(4):
    xkey = "xaxis" if i == 0 else f"xaxis{i + 1}"
    ykey = "yaxis" if i == 0 else f"yaxis{i + 1}"
    ya = "y" if i == 0 else f"y{i + 1}"
    xa = "x" if i == 0 else f"x{i + 1}"
    layout[xkey] = dict(domain=[0, 1], anchor=ya, range=[-50, 10], tickvals=x_ticks, ticktext=x_tick_text,
                        showticklabels=(i == 3), showline=True, mirror="ticks", linecolor=frame, linewidth=2,
                        ticks="inside", ticklen=9, tickwidth=2, tickcolor=frame, showgrid=False, zeroline=False,
                        tickfont=dict(family=SERIF, size=32), ticklabelstandoff=2, ticklabeloverflow="allow")
    layout[ykey] = dict(domain=y_domains[i], anchor=xa, range=[0, 12], tickvals=[0, 2, 4, 6, 8, 10],
                        showline=True, mirror="ticks", linecolor=frame, linewidth=2, ticks="inside", ticklen=9,
                        tickwidth=2, tickcolor=frame, showgrid=False, zeroline=False,
                        tickfont=dict(family=SERIF, size=32), ticklabelstandoff=14)
    annotations.append(dict(x=-48.45, y=10.95, xref=xa, yref=ya, text=f"<b>{panel_tags[i]}</b>", showarrow=False,
                            xanchor="left", yanchor="middle", font=dict(family=SERIF, size=48)))
    annotations.append(dict(x=-6.1, y=9.92, xref=xa, yref=ya, text=grid_labels[i], showarrow=False,
                            xanchor="left", yanchor="middle", font=dict(family=SERIF, size=45)))
    mid = sum(y_domains[i]) / 2
    annotations.append(dict(x=-0.085, y=mid, xref="paper", yref="paper", text="height (km)", showarrow=False,
                            textangle=-90, xanchor="center", yanchor="middle", font=dict(family=SERIF, size=30)))

# the "12" label of panel (a) sits just below the top edge
annotations.append(dict(x=-0.0177, y=0.9945, xref="paper", yref="paper", text="12", showarrow=False,
                        xanchor="right", yanchor="middle", font=dict(family=SERIF, size=32)))
annotations.append(dict(x=0.5, y=-0.045, xref="paper", yref="paper", text="Distance from surface gust front (km)",
                        showarrow=False, xanchor="center", yanchor="middle", font=dict(family=SERIF, size=34)))

# colour bar with triangular ends
cb_x0, cb_x1 = 0.2793, 0.7169
cb_y0, cb_y1, cb_ym = -0.0807, -0.0593, -0.0697
tip_l, tip_r = 0.135, 0.8631
n = len(levels) - 1
shapes = [dict(type="path", xref="paper", yref="paper",
               path=f"M {tip_l},{cb_ym} L {cb_x0},{cb_y1} L {cb_x0},{cb_y0} Z",
               fillcolor=shade_colors[0], line=dict(color="#555555", width=1.5)),
          dict(type="path", xref="paper", yref="paper",
               path=f"M {tip_r},{cb_ym} L {cb_x1},{cb_y1} L {cb_x1},{cb_y0} Z",
               fillcolor=shade_colors[-1], line=dict(color="#555555", width=1.5))]
for k in range(n):
    xa0 = cb_x0 + (cb_x1 - cb_x0) * k / n
    xa1 = cb_x0 + (cb_x1 - cb_x0) * (k + 1) / n
    shapes.append(dict(type="rect", xref="paper", yref="paper", x0=xa0, x1=xa1, y0=cb_y0, y1=cb_y1,
                       fillcolor=shade_colors[k + 1], line=dict(color="#555555", width=1.5)))
for k, lev in enumerate(levels):
    annotations.append(dict(x=cb_x0 + (cb_x1 - cb_x0) * k / n, y=-0.0925, xref="paper", yref="paper",
                            text=f"{lev:g}", showarrow=False, xanchor="center", yanchor="middle",
                            font=dict(family=SERIF, size=30)))

layout["annotations"] = annotations
layout["shapes"] = shapes
fig.update_layout(**layout)

# the page's default body margin would push the 1200x2013 figure off the window
fig.write_html("out.html", config={"displayModeBar": False},
               post_script="document.body.style.margin = '0px';")
